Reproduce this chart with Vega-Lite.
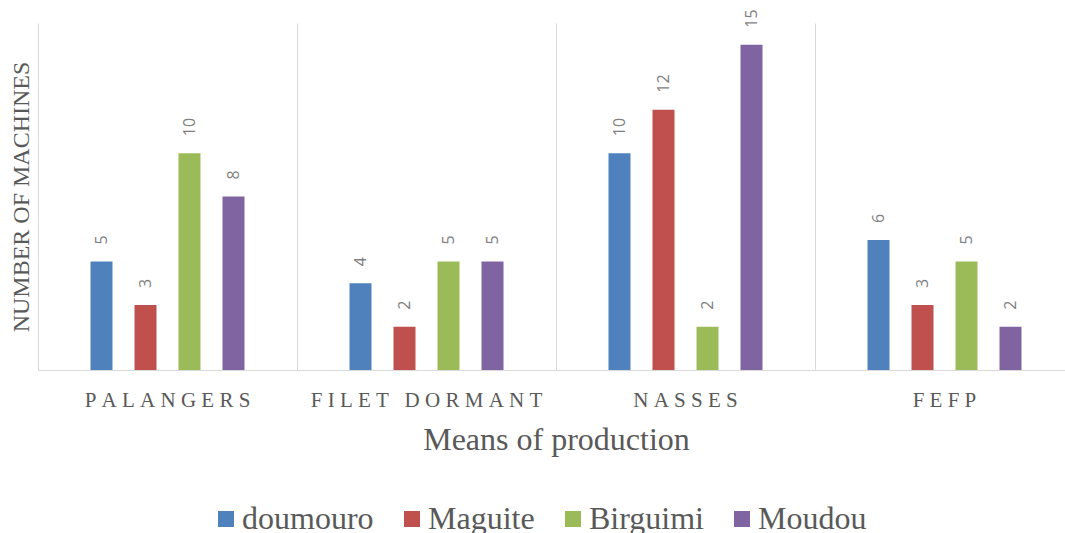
{
  "$schema": "https://vega.github.io/schema/vega-lite/v6.json",
  "width": 1027,
  "height": 347,
  "autosize": {"type": "none"},
  "padding": {"left": 38, "top": 23, "right": 0, "bottom": 163},
  "background": "white",
  "data": {
    "values": [
      {"means": "PALANGERS", "village": "doumouro", "count": 5},
      {"means": "PALANGERS", "village": "Maguite", "count": 3},
      {"means": "PALANGERS", "village": "Birguimi", "count": 10},
      {"means": "PALANGERS", "village": "Moudou", "count": 8},
      {"means": "FILET DORMANT", "village": "doumouro", "count": 4},
      {"means": "FILET DORMANT", "village": "Maguite", "count": 2},
      {"means": "FILET DORMANT", "village": "Birguimi", "count": 5},
      {"means": "FILET DORMANT", "village": "Moudou", "count": 5},
      {"means": "NASSES", "village": "doumouro", "count": 10},
      {"means": "NASSES", "village": "Maguite", "count": 12},
      {"means": "NASSES", "village": "Birguimi", "count": 2},
      {"means": "NASSES", "village": "Moudou", "count": 15},
      {"means": "FEFP", "village": "doumouro", "count": 6},
      {"means": "FEFP", "village": "Maguite", "count": 3},
      {"means": "FEFP", "village": "Birguimi", "count": 5},
      {"means": "FEFP", "village": "Moudou", "count": 2}
    ]
  },
  "config": {
    "view": {"stroke": null},
    "axis": {"labelFont": "Liberation Serif", "titleFont": "Liberation Serif", "titleFontWeight": "normal"}
  },
  "encoding": {
    "x": {
      "field": "means",
      "type": "nominal",
      "sort": ["PALANGERS", "FILET DORMANT", "NASSES", "FEFP"],
      "scale": {"range": [0, 1036], "paddingInner": 0, "paddingOuter": 0},
      "axis": {
        "title": "Means of production",
        "titleFontSize": 32,
        "titleColor": "#595959",
        "titlePadding": 14,
        "labelAngle": 0,
        "labelFontSize": 21,
        "labelColor": "#595959",
        "labelPadding": 19,
        "labelLimit": 400,
        "labelExpr": "join(split(datum.label, ''), '\u00a0') + '\u00a0'",
        "ticks": false,
        "bandPosition": 0,
        "grid": true,
        "gridColor": "#d9d9d9",
        "gridWidth": 1,
        "domainColor": "#d9d9d9",
        "domainWidth": 1
      }
    },
    "xOffset": {
      "field": "village",
      "type": "nominal",
      "sort": ["doumouro", "Maguite", "Birguimi", "Moudou"],
      "scale": {"range": [8.5, 250.5], "paddingInner": 0.5, "paddingOuter": 1}
    },
    "y": {
      "field": "count",
      "type": "quantitative",
      "scale": {"domain": [0, 16], "nice": false},
      "axis": {
        "title": "NUMBER OF MACHINES",
        "titleFontSize": 24,
        "titleColor": "#595959",
        "titlePadding": 5,
        "labels": false,
        "ticks": false,
        "grid": false,
        "domain": false
      }
    }
  },
  "layer": [
    {
      "mark": {"type": "bar"},
      "encoding": {
        "color": {
          "field": "village",
          "type": "nominal",
          "sort": ["doumouro", "Maguite", "Birguimi", "Moudou"],
          "scale": {
            "domain": ["doumouro", "Maguite", "Birguimi", "Moudou"],
            "range": ["#4F81BD", "#C0504D", "#9BBB59", "#8064A2"]
          },
          "legend": {
            "title": null,
            "orient": "none",
            "direction": "horizontal",
            "legendX": 172,
            "legendY": 480,
            "symbolType": "square",
            "symbolSize": 256,
            "symbolStrokeWidth": 0,
            "labelFont": "Liberation Serif",
            "labelFontSize": 32,
            "labelColor": "#595959",
            "labelOffset": 0,
            "columnPadding": 22,
            "labelLimit": 300
          }
        }
      }
    },
    {
      "mark": {
        "type": "text",
        "angle": 270,
        "align": "left",
        "baseline": "middle",
        "dx": 17,
        "font": "Open Sans",
        "fontSize": 16,
        "color": "#7f7f7f"
      },
      "encoding": {
        "text": {"field": "count", "type": "quantitative"}
      }
    }
  ]
}
